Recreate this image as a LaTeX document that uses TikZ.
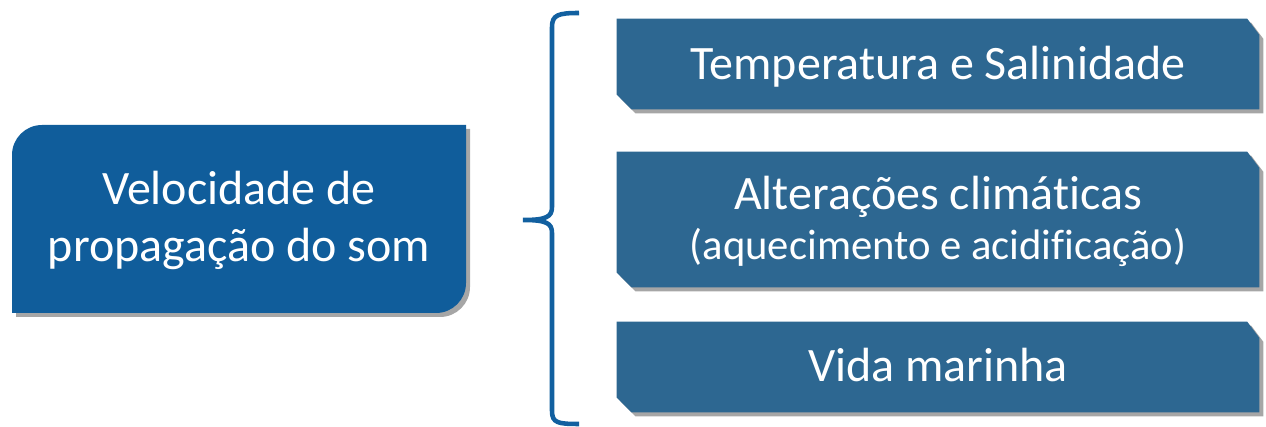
\documentclass[tikz,border=0pt]{standalone}
\usepackage{fontspec}
\setmainfont{Carlito}[Ligatures=NoCommon]
\usetikzlibrary{shadows}
\definecolor{srcblue}{RGB}{16,93,155}
\definecolor{itemblue}{RGB}{45,103,145}
\definecolor{braceblue}{RGB}{18,96,160}
\tikzset{
  shad/.style={drop shadow={shadow xshift=3pt,shadow yshift=-3pt,opacity=0.35,fill=black}},
  itembox/.style={rectangle,inner sep=0pt,minimum width=481.5pt},
  itemtext/.style={text=white,inner sep=0pt,anchor=base,align=center,font=\fontsize{36}{42}\selectfont},
  srctext/.style={text=white,align=center,inner sep=0pt,anchor=base,
    font=\fontsize{36}{42.75}\selectfont},
}
\newcommand\chamfill[1]{%
  \fill[itemblue,shad] ([yshift=11pt]#1.south west) -- (#1.north west)
    -- ([xshift=-9pt]#1.north east) -- ([yshift=-12pt]#1.north east)
    -- (#1.south east) -- ([xshift=11pt]#1.south west) -- cycle;}
\begin{document}
\begin{tikzpicture}[x=0.75pt,y=0.75pt]
\useasboundingbox (0,0) rectangle (1266,427);
% source box
\coordinate (sw) at (12,114);
\coordinate (ne) at (466,302);
\fill[srcblue,shad] (sw) -- (12,272) arc[start angle=180,end angle=90,radius=22.5pt]
  -- (ne) -- (466,144) arc[start angle=0,end angle=-90,radius=22.5pt] -- cycle;
\node[srctext] (src) at (239,165) {Velocidade de\\propagação do som};
% items
\node[itembox,minimum height=67.5pt] (t1) at (938,363) {};
\chamfill{t1}
\node[itemtext] (t1t) at (938,347) {Temperatura e Salinidade};
\node[itembox,minimum height=101.25pt] (t2) at (938,207.5) {};
\chamfill{t2}
\node[itemtext] (t2t) at (938,217) {Alterações climáticas};
\node[itemtext,font=\fontsize{32}{38}\selectfont] (t2s) at (938,167) {(aquecimento e acidificação)};
\node[itembox,minimum height=67.5pt] (t3) at (938,60) {};
\chamfill{t3}
\node[itemtext] (t3t) at (938,45) {Vida marinha};
% brace
\coordinate (tip) at (523,207);
\coordinate (btop) at (579,414);
\coordinate (bbot) at (579,3);
\draw[braceblue,line width=3.4pt] (btop) .. controls (558,414) and (552,412) .. (552,400) -- (552,220)
  .. controls (552,210) and (546,207) .. (tip)
  .. controls (546,207) and (552,204) .. (552,194) -- (552,16)
  .. controls (552,4) and (558,3) .. (bbot);
\end{tikzpicture}
\end{document}
